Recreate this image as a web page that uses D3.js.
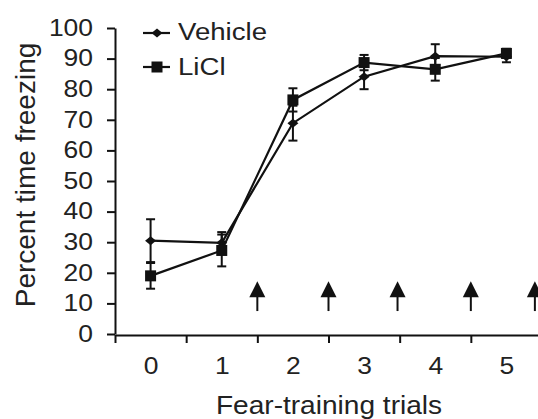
<html>
<head>
<script src="https://d3js.org/d3.v7.min.js"></script>
<style>
  body { margin: 0; background: #fff; }
  text { font-family: "Liberation Sans", Arial, sans-serif; fill: #222; }
</style>
</head>
<body>
<svg class="chart" width="538" height="419"></svg>
<script>
// values (mean and error per trial)
var trials = [0, 1, 2, 3, 4, 5];
var vehicleMean = [30.5, 29.8, 68.9, 84.1, 90.8, 90.6];
var vehicleErr  = [7.0, 3.5, 5.7, 4.1, 3.9, 1.8];
var liclMean    = [19.0, 27.3, 76.5, 88.7, 86.5, 91.7];
var liclErr     = [4.2, 5.2, 3.8, 2.5, 3.7, 1.5];

var yTicks = [0, 10, 20, 30, 40, 50, 60, 70, 80, 90, 100];
var xLabels = [0, 1, 2, 3, 4, 5];
var xBounds = [-0.5, 0.5, 1.5, 2.5, 3.5, 4.5, 5.5];

// shock arrows (trial position, tip and tail in percent units)
var arrowAt = [1.5, 2.5, 3.47, 4.5, 5.4];
var arrowTip = 17.2, arrowTail = 7.5;

var svg = d3.select(".chart");

var x = d3.scaleLinear().domain([-0.5, 5.5]).range([115, 542]);
var y = d3.scaleLinear().domain([0, 100]).range([334, 28]);

// y axis
var gy = svg.append("g")
  .attr("transform", "translate(115,0)")
  .call(d3.axisLeft(y).tickValues(yTicks).tickSize(8).tickSizeOuter(0).tickPadding(14));
gy.select(".domain").attr("stroke", "#111").attr("stroke-width", 2);
gy.selectAll(".tick line").attr("stroke", "#111").attr("stroke-width", 2);
gy.selectAll(".tick text")
  .attr("font-size", 23).attr("fill", "#222")
  .attr("font-family", "Liberation Sans, Arial, sans-serif")
  .attr("transform", function() {
    var tx = +this.getAttribute("x");
    return "translate(" + tx + ",0) scale(1.15,1)";
  })
  .attr("x", 0);

// x axis (boundary ticks)
var gx = svg.append("g")
  .attr("transform", "translate(0,335)")
  .call(d3.axisBottom(x).tickValues(xBounds).tickSize(8).tickSizeOuter(0).tickFormat(""));
gx.select(".domain").attr("stroke", "#111").attr("stroke-width", 2);
gx.selectAll(".tick line").attr("stroke", "#111").attr("stroke-width", 2);

// x axis labels, centred on trials
var gxl = svg.append("g")
  .attr("transform", "translate(0,335)")
  .call(d3.axisBottom(x).tickValues(xLabels).tickSize(0).tickPadding(23).tickFormat(d3.format("d")));
gxl.select(".domain").remove();
gxl.selectAll(".tick text")
  .attr("font-size", 23).attr("fill", "#222")
  .attr("font-family", "Liberation Sans, Arial, sans-serif")
  .attr("transform", function() {
    var ty = +this.getAttribute("y");
    return "translate(0," + ty + ") scale(1.15,1)";
  })
  .attr("y", 0);

// axis titles
svg.append("text")
  .attr("transform", "translate(329,414) scale(1.08,1)")
  .attr("text-anchor", "middle")
  .attr("font-size", 26)
  .text("Fear-training trials");

svg.append("text")
  .attr("transform", "translate(35,175) rotate(-90)")
  .attr("text-anchor", "middle")
  .attr("font-size", 28)
  .text("Percent time freezing");

// arrows
var arrows = svg.append("g");
arrowAt.forEach(function(a) {
  var ax = x(a);
  arrows.append("line")
    .attr("x1", ax).attr("x2", ax)
    .attr("y1", y(arrowTip) + 10).attr("y2", y(arrowTail))
    .attr("stroke", "#111").attr("stroke-width", 2);
  arrows.append("path")
    .attr("d", "M" + ax + "," + y(arrowTip) + "l8,16l-16,0z")
    .attr("fill", "#111");
});

var diamond = "M0,-4.5L5.5,0L0,4.5L-5.5,0Z";

function series(mean, err, marker) {
  var pts = trials.map(function(t, i) { return {t: t, m: mean[i], e: err[i]}; });
  var g = svg.append("g");
  g.append("path")
    .datum(pts)
    .attr("fill", "none")
    .attr("stroke", "#111")
    .attr("stroke-width", 2.2)
    .attr("d", d3.line().x(function(d) { return x(d.t); }).y(function(d) { return y(d.m); }));
  var eb = g.selectAll(".eb").data(pts).enter().append("g");
  eb.append("line")
    .attr("x1", function(d) { return x(d.t); }).attr("x2", function(d) { return x(d.t); })
    .attr("y1", function(d) { return y(d.m + d.e); }).attr("y2", function(d) { return y(d.m - d.e); })
    .attr("stroke", "#111").attr("stroke-width", 2);
  [1, -1].forEach(function(s) {
    eb.append("line")
      .attr("x1", function(d) { return x(d.t) - 4.5; }).attr("x2", function(d) { return x(d.t) + 4.5; })
      .attr("y1", function(d) { return y(d.m + s * d.e); }).attr("y2", function(d) { return y(d.m + s * d.e); })
      .attr("stroke", "#111").attr("stroke-width", 2);
  });
  if (marker == "square") {
    g.selectAll(".mk").data(pts).enter().append("rect")
      .attr("x", function(d) { return x(d.t) - 5.5; })
      .attr("y", function(d) { return y(d.m) - 5.5; })
      .attr("width", 11).attr("height", 11)
      .attr("fill", "#111");
  } else {
    g.selectAll(".mk").data(pts).enter().append("path")
      .attr("d", diamond)
      .attr("transform", function(d) { return "translate(" + x(d.t) + "," + y(d.m) + ")"; })
      .attr("fill", "#111");
  }
}

series(vehicleMean, vehicleErr, "diamond");
series(liclMean, liclErr, "square");

// legend
var leg = svg.append("g");
leg.append("line").attr("x1", 143).attr("x2", 170).attr("y1", 33).attr("y2", 33)
  .attr("stroke", "#111").attr("stroke-width", 2.2);
leg.append("path").attr("d", diamond).attr("transform", "translate(157,33)").attr("fill", "#111");
leg.append("text").attr("transform", "translate(178,40) scale(1.15,1)").attr("font-size", 24).text("Vehicle");

leg.append("line").attr("x1", 143).attr("x2", 170).attr("y1", 67).attr("y2", 67)
  .attr("stroke", "#111").attr("stroke-width", 2.2);
leg.append("rect").attr("x", 151.5).attr("y", 61.5).attr("width", 11).attr("height", 11).attr("fill", "#111");
leg.append("text").attr("transform", "translate(178,75) scale(1.15,1)").attr("font-size", 24).text("LiCl");
</script>
</body>
</html>
